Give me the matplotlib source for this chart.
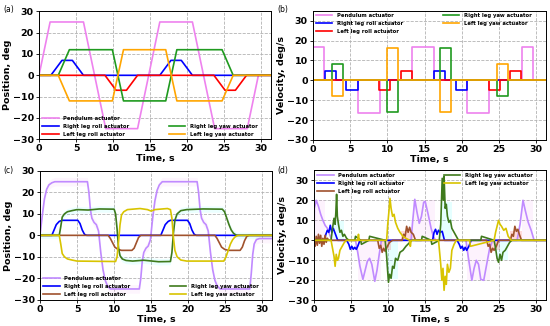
import numpy as np
import matplotlib.pyplot as plt
from matplotlib.lines import Line2D

# ---------------- (a) reference positions, breakpoints (s, deg)
t_pend_ref = [0, 1.5, 6.0, 9.0, 13.3, 16.3, 20.7, 23.7, 28.1, 29.6, 32]
p_pend_ref = [0, 25, 25, -25, -25, 25, 25, -25, -25, 0, 0]
t_rroll_ref = [0, 1.6, 3.1, 4.5, 6.0, 16.3, 17.8, 19.2, 20.7, 32]
p_rroll_ref = [0, 0, 7, 7, 0, 0, 7, 7, 0, 0]
t_lroll_ref = [0, 8.9, 10.4, 11.8, 13.3, 23.6, 25.1, 26.5, 28.0, 32]
p_lroll_ref = [0, 0, -7, -7, 0, 0, -7, -7, 0, 0]
t_yaw_ref = [0, 2.6, 4.1, 9.9, 11.4, 17.1, 18.6, 24.7, 26.2, 32]
p_ryaw_ref = [0, 0, 12, 12, -12, -12, 12, 12, 0, 0]
p_lyaw_ref = [0, 0, -12, -12, 12, 12, -12, -12, 0, 0]

# ---------------- (c) measured positions (deg)
t_pend_c = [0, 0.3, 0.6, 0.9, 1.2, 1.6, 2.0, 6.4, 6.6, 6.8, 7.0, 7.3, 7.6, 7.9, 8.2, 8.5, 8.8, 9.1, 9.5,
            13.4, 13.6, 13.8, 14.0, 14.3, 14.6, 14.9, 15.2, 15.5, 15.8, 16.1, 16.5,
            21.2, 21.4, 21.6, 21.8, 22.1, 22.4, 22.7, 23.0, 23.3, 23.6, 23.9, 24.3,
            28.3, 28.5, 28.7, 28.9, 29.2, 29.6, 32]
p_pend_c = [0, 9, 17, 21.5, 23.5, 24.5, 25, 25, 20, 12, 8, 6, 5, 2, -8, -16, -21, -23.5, -25,
            -25, -20, -12, -8, -6, -5, -2, 8, 16, 21, 23.5, 25,
            25, 20, 12, 8, 6, 5, 2, -8, -16, -21, -23.5, -25,
            -25, -18, -9, -4, -2, -1.5, -1.5]
t_rroll_c = [0, 1.6, 1.9, 2.2, 2.6, 3.0, 5.1, 5.4, 5.7, 6.0, 6.3,
             16.3, 16.6, 16.9, 17.3, 17.6, 19.9, 20.2, 20.5, 20.8, 21.1, 32]
p_rroll_c = [0, 0, 2.5, 5, 6.5, 7, 7, 5.5, 2.5, 0.5, 0,
             0, 2.5, 5, 6.5, 7, 7, 5.5, 2.5, 0.5, 0, 0]
t_lroll_c = [0, 9.2, 9.5, 9.8, 10.1, 10.5, 11.0, 12.4, 12.7, 13.0, 13.3, 13.6,
             23.6, 23.9, 24.2, 24.5, 24.9, 25.4, 27.0, 27.3, 27.6, 27.9, 28.2, 32]
p_lroll_c = [0, 0, -1.5, -3.5, -5.5, -6.5, -7, -7, -6, -3.5, -1, 0,
             0, -1.5, -3.5, -5.5, -6.5, -7, -7, -5.5, -2.5, -0.5, 0, 0]
t_ryaw_c = [0, 2.6, 2.8, 3.0, 3.3, 3.7, 4.3, 5.0, 6.5, 8.0, 10.0, 10.2, 10.4, 10.6, 10.8, 11.1, 11.6,
            12.5, 14.0, 16.0, 17.6, 17.8, 18.0, 18.2, 18.5, 19.0, 19.8, 22.0, 24.6,
            24.9, 25.2, 25.5, 25.8, 26.1, 26.5, 32]
p_ryaw_c = [0, 0, 4, 8.5, 10, 11, 11.5, 12, 11.8, 12.3, 12.2, 10, 3, -6, -9.5, -11, -11.7,
            -12, -11.6, -12.3, -12.2, -8, 1, 7, 10, 11.5, 12, 12.3, 12.2,
            11, 8, 5, 2.5, 1, 0, 0]
t_lyaw_c = [0, 2.6, 2.8, 3.0, 3.3, 3.7, 4.3, 5.0, 10.2, 10.4, 10.6, 10.8, 11.0, 11.3, 11.8,
            13.5, 14.5, 15.0, 15.5, 17.2, 17.6, 17.8, 18.0, 18.2, 18.5, 19.0, 19.8,
            24.8, 25.1, 25.4, 25.7, 26.0, 26.3, 26.7, 32]
p_lyaw_c = [0, 0, -4, -8.5, -10, -11, -11.5, -12, -12.2, -10, -3, 5, 9.5, 11, 12,
            12.5, 12, 11.3, 12, 12.5, 12, 8, -1, -7, -10, -11.5, -12,
            -12, -10, -7, -4, -2, -0.8, 0, 0]

# ---------------- (d) measured velocities (deg/s)
t_pend_d = [0, 0.05, 0.3, 0.6, 0.9, 1.2, 1.5, 1.8, 2.1, 2.4, 5.6, 5.9, 6.2, 6.6, 6.9, 7.2, 7.5, 7.8,
            8.2, 8.5, 8.8, 9.1, 13.1, 13.3, 13.6, 13.9, 14.2, 14.5, 14.8, 15.0, 15.4, 15.8, 16.1,
            16.4, 20.5, 20.8, 21.3, 21.6, 21.9, 22.2, 22.5, 22.9, 23.3, 23.7, 24.1, 27.4, 27.8,
            28.2, 28.5, 28.9, 29.3, 29.7, 32]
v_pend_d = [0, 16, 20, 17, 13, 10, 7.5, 6, 3, 0, 0, -6, -13, -19.5, -15, -10.5, -9, -12,
            -20.5, -15, -7, 0, 0, 9, 20.5, 14, 8.5, 12, 19, 19.5, 13, 6, 2,
            0, 0, -8, -20, -14, -10, -12, -19.5, -20, -12, -4, 0, 0, 8,
            20, 15, 9, 5, 0, 0]
t_rroll_d = [0, 1.4, 1.6, 1.8, 2.0, 2.2, 2.4, 2.6, 2.9, 3.2, 4.4, 4.7, 4.9, 5.1, 5.3, 5.5, 5.7, 5.9,
             6.2, 16.0, 16.2, 16.4, 16.6, 16.8, 17.0, 17.3, 17.6, 19.3, 19.6, 19.8, 20.0, 20.2,
             20.4, 20.6, 20.9, 21.2, 32]
v_rroll_d = [0, 0, 3, 5, 4, 7.5, 4, 6, 3, 0, 0, -2, -4.5, -3, -4.5, -3.5, -4.5, -3,
             0, 0, 4, 5.5, 3, 5, 4, 4.5, 0, 0, -2, -4, -3, -5,
             -3.5, -5, -3, 0, 0]
t_lroll_d = [0, 0.15, 0.3, 0.45, 0.6, 0.75, 0.9, 1.05, 1.2, 1.35, 1.5, 1.65, 1.8, 2.0,
             8.6, 8.8, 9.0, 9.2, 9.4, 9.6, 9.9, 10.2, 10.6, 11.9, 12.1, 12.3, 12.5, 12.7, 12.9,
             13.1, 13.4, 13.7, 23.3, 23.5, 23.7, 23.9, 24.1, 24.3, 24.6, 24.9, 26.5, 26.7, 26.9,
             27.1, 27.3, 27.5, 27.7, 28.0, 32]
v_lroll_d = [0, -3, 2, -2.5, 3, -1.5, 2.5, -3, 1, -2, 2.5, -1, 1, 0,
             0, -4, -2.5, -6, -4, -5.5, -3, -1, 0, 0, 3, 2, 7, 4, 6.5,
             4, 3, 0, 0, -3, -2, -6, -4, -5, -3, 0, 0, 3, 2,
             7, 4.5, 5.5, 3, 0, 0]
t_ryaw_d = [0, 2.3, 2.5, 2.7, 2.85, 2.95, 3.05, 3.15, 3.3, 3.5, 3.7, 3.9, 4.1, 4.4, 4.7, 5.5, 5.6,
            6.3, 6.4, 7.4, 7.5, 9.6, 9.8, 9.95, 10.05, 10.2, 10.4, 10.6, 10.8, 11.0, 11.3, 11.6,
            12.0, 12.4, 12.8, 13.2, 14.5, 14.6, 15.8, 15.9, 16.9, 17.1, 17.3, 17.45, 17.55, 17.7,
            17.85, 18.0, 18.2, 18.4, 18.6, 18.9, 19.2, 19.5, 22.5, 22.6, 24.3, 24.5, 24.7, 24.9,
            25.1, 25.3, 25.5, 25.8, 26.1, 26.4, 26.7, 32]
v_ryaw_d = [0, 0, 6, 11, 8, 14, 23, 12, 8, 4, 5, 2, 3, 1, 0, 0, 2,
            0, -2, 0, 2, 0, -8, -16, -21, -17, -19, -13, -14, -9, -10, -6,
            -5, -3, -1.5, 0, 0, 2, 0, -2, 0, 8, 31, 20, 32, 16,
            18, 12, 9, 10, 6, 4, 2, 0, 0, 2, 0, -4, -9, -11,
            -7, -10, -6, -5, -3, -1, 0, 0]
t_lyaw_d = [0, 2.3, 2.5, 2.7, 2.85, 3.0, 3.15, 3.3, 3.5, 3.8, 4.1, 4.4, 5.9, 6.0, 6.1, 9.8, 9.95,
            10.1, 10.25, 10.4, 10.6, 10.8, 11.0, 11.3, 11.6, 12.0, 12.4, 12.9, 13.0, 13.1, 16.8,
            16.95, 17.1, 17.25, 17.4, 17.55, 17.7, 17.85, 18.0, 18.2, 18.4, 18.6, 18.9, 19.2,
            21.0, 21.1, 24.3, 24.5, 24.7, 24.9, 25.1, 25.3, 25.6, 25.9, 26.2, 26.6, 32]
v_lyaw_d = [0, 0, -4, -8, -13, -7, -10, -9, -5, -3, -1, 0, 0, 3, 0, 0, 8,
            14, 21, 16, 12, 13, 9, 6, 4, 2, 1, 0, -3, 0, 0,
            -6, -12, -20, -14, -25, -18, -22, -12, -16, -14, -5, -2, 0,
            0, -3, 0, 4, 7, 10, 8, 7, 5, 6, 2, 0, 0]

labels = ['Pendulum actuator', 'Right leg roll actuator', 'Left leg roll actuator',
          'Right leg yaw actuator', 'Left leg yaw actuator']
colors_ref = ['violet', 'blue', 'red', '#1f9a1f', 'orange']
colors_meas = ['#c08aff', 'blue', '#a0522d', '#3f7a1c', '#d8c400']


def ref_velocity(t, p):
    t = np.asarray(t, float)
    p = np.asarray(p, float)
    v = np.diff(p) / np.diff(t)
    return t, np.append(v, v[-1])


def style(ax, ylabel, ylim):
    ax.set_xlim(0, 31.3)
    ax.set_ylim(*ylim)
    ax.set_xticks(range(0, 31, 5))
    ax.set_yticks(range(-30, 31, 10))
    ax.grid(True, ls='--', color='0.7', lw=0.6)
    ax.set_axisbelow(True)
    ax.set_xlabel('Time, s', fontsize=6.8, fontweight='bold', labelpad=0.5)
    ax.set_ylabel(ylabel, fontsize=6.8, fontweight='bold', labelpad=0.5)
    ax.tick_params(labelsize=6.8, length=2.5, width=0.6, pad=1.2)
    for lbl in ax.get_xticklabels() + ax.get_yticklabels():
        lbl.set_fontweight('bold')
    for s in ax.spines.values():
        s.set_linewidth(0.7)


def add_legend(ax, handles, blank_first):
    hs = list(handles)
    if blank_first:
        blank = Line2D([], [], alpha=0)
        hs = hs[:3] + [blank] + hs[3:]
        labs = labels[:3] + [' '] + labels[3:]
        loc = 'lower left'
    else:
        labs = labels
        loc = 'upper left'
    ax.legend(hs, labs, ncol=2, loc=loc, frameon=False, prop={'size': 3.8, 'weight': 'bold'},
              handlelength=3.2, handletextpad=0.8, labelspacing=0.55, columnspacing=7.5,
              borderaxespad=0.3, borderpad=0.2)


fig = plt.figure(figsize=(5.5, 3.26), dpi=100)
ax_a = fig.add_axes([0.0709, 0.5727, 0.4218, 0.3926])
ax_b = fig.add_axes([0.5690, 0.5706, 0.4236, 0.3966])
ax_c = fig.add_axes([0.0727, 0.0807, 0.4218, 0.3948])
ax_d = fig.add_axes([0.5709, 0.0788, 0.4218, 0.3988])

ref_sets = [(t_pend_ref, p_pend_ref), (t_rroll_ref, p_rroll_ref), (t_lroll_ref, p_lroll_ref),
            (t_yaw_ref, p_ryaw_ref), (t_yaw_ref, p_lyaw_ref)]
c_sets = [(t_pend_c, p_pend_c), (t_rroll_c, p_rroll_c), (t_lroll_c, p_lroll_c),
          (t_ryaw_c, p_ryaw_c), (t_lyaw_c, p_lyaw_c)]
d_sets = [(t_pend_d, v_pend_d), (t_rroll_d, v_rroll_d), (t_lroll_d, v_lroll_d),
          (t_ryaw_d, v_ryaw_d), (t_lyaw_d, v_lyaw_d)]

# (a) reference position
hs = []
for (t, p), c in zip(ref_sets, colors_ref):
    hs += ax_a.plot(t, p, color=c, lw=1.2)
style(ax_a, 'Position, deg', (-30, 30))
add_legend(ax_a, hs, True)

# (b) reference velocity
hs = []
for (t, p), c in zip(ref_sets, colors_ref):
    tv, v = ref_velocity(t, p)
    hs += ax_b.step(tv, v, where='post', color=c, lw=1.2)
style(ax_b, 'Velocity, deg/s', (-30, 35))
add_legend(ax_b, hs, False)

# (c) measured position, with faint bands
ax_c.fill_between(t_pend_c, np.array(p_pend_c) - 2, np.array(p_pend_c) + 2, color='violet', alpha=0.08, lw=0)
ax_c.fill_between(t_ryaw_c, np.array(p_ryaw_c) - 1.5, np.array(p_ryaw_c) + 1.5, color='cyan', alpha=0.08, lw=0)
hs = []
for (t, p), c in zip(c_sets, colors_meas):
    hs += ax_c.plot(t, p, color=c, lw=1.2)
style(ax_c, 'Position, deg', (-30, 30))
add_legend(ax_c, hs, True)

# (d) measured velocity, reference velocity shaded underneath
tv, v = ref_velocity(t_pend_ref, p_pend_ref)
ax_d.fill_between(tv, 0, v * 1.2, step='post', color='violet', alpha=0.1, lw=0)
tv, v = ref_velocity(t_yaw_ref, p_ryaw_ref)
ax_d.fill_between(tv, 0, v * 1.2, step='post', color='cyan', alpha=0.1, lw=0)
tv, v = ref_velocity(t_lroll_ref, p_lroll_ref)
ax_d.fill_between(tv, 0, v, step='post', color='red', alpha=0.15, lw=0)
hs = []
for (t, p), c in zip(d_sets, colors_meas):
    hs += ax_d.plot(t, p, color=c, lw=1.2)
style(ax_d, 'Velocity, deg/s', (-30, 35))
add_legend(ax_d, hs, False)

for x, y, s in [(0.006, 0.985, '(a)'), (0.504, 0.985, '(b)'), (0.006, 0.49, '(c)'), (0.504, 0.49, '(d)')]:
    fig.text(x, y, s, fontsize=5.5, va='top', ha='left')

fig.savefig('out.png', dpi=100)
